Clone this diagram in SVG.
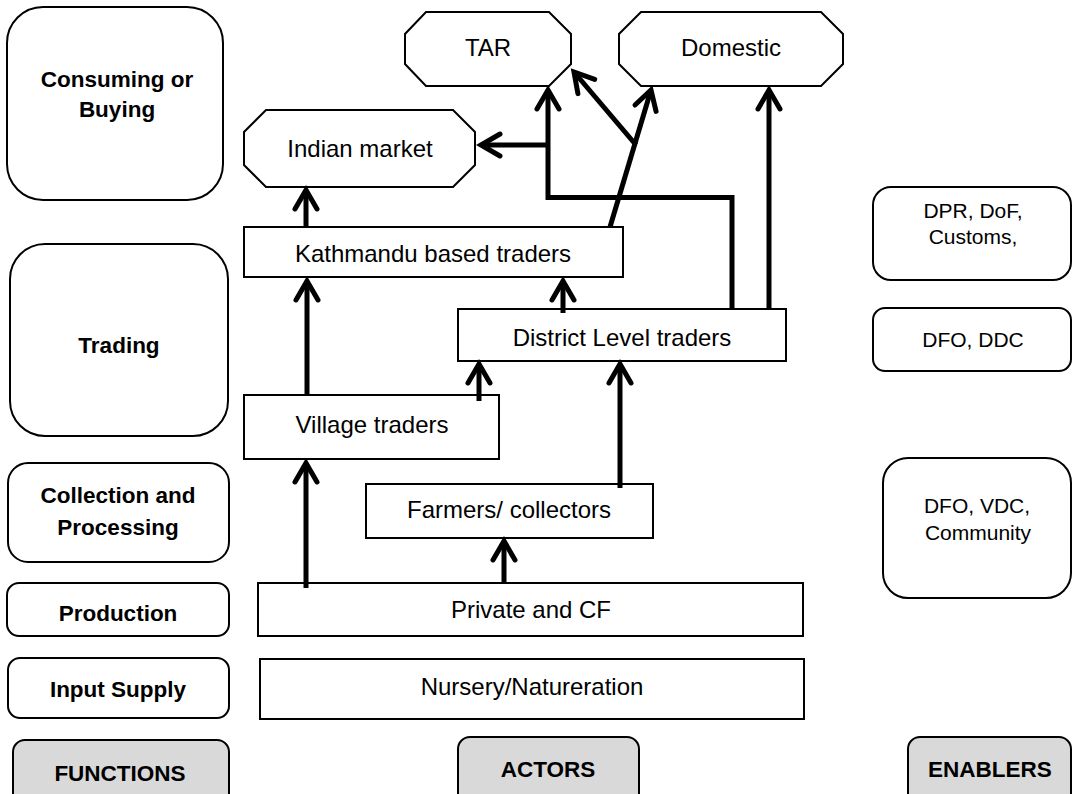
<svg xmlns="http://www.w3.org/2000/svg" width="1073" height="794" viewBox="0 0 1073 794">
  <style>
    .box { fill: #ffffff; stroke: #000000; stroke-width: 2; }
    .tag { fill: #d9d9d9; stroke: #000000; stroke-width: 2; }
    .lbl { font-family: "Liberation Sans", Arial, sans-serif; font-size: 24px; fill: #000000; text-anchor: middle; }
    .fn { font-family: "Liberation Sans", Arial, sans-serif; font-size: 22.5px; font-weight: bold; fill: #000000; text-anchor: middle; }
    .en { font-family: "Liberation Sans", Arial, sans-serif; font-size: 21px; fill: #000000; text-anchor: middle; }
    .flow { fill: none; stroke: #000000; stroke-width: 5; stroke-linejoin: miter; }
    .flow.arr { marker-end: url(#head); }
  </style>
  <defs>
    <marker id="head" markerUnits="userSpaceOnUse" viewBox="-26 -16 32 32" refX="0" refY="0" markerWidth="32" markerHeight="32" orient="auto" overflow="visible">
      <path d="M -19 -11 L 0 0 L -19 11" fill="none" stroke="#000000" stroke-width="5" stroke-linecap="round" stroke-linejoin="miter"/>
    </marker>
  </defs>

  <rect width="1073" height="794" fill="#ffffff"/>

  <!-- Functions column -->
  <g id="fn-consuming">
    <rect class="box" x="7" y="7" width="216" height="193" rx="36"/>
    <text class="fn" x="117" y="87">Consuming or</text>
    <text class="fn" x="117" y="117">Buying</text>
  </g>
  <g id="fn-trading">
    <rect class="box" x="10" y="244" width="218" height="192" rx="35"/>
    <text class="fn" x="119" y="353">Trading</text>
  </g>
  <g id="fn-collection">
    <rect class="box" x="8" y="463" width="221" height="99" rx="20"/>
    <text class="fn" x="118" y="503">Collection and</text>
    <text class="fn" x="118" y="535">Processing</text>
  </g>
  <g id="fn-production">
    <rect class="box" x="7" y="583" width="222" height="53" rx="12"/>
    <text class="fn" x="118" y="621">Production</text>
  </g>
  <g id="fn-input">
    <rect class="box" x="8" y="658" width="221" height="60" rx="12"/>
    <text class="fn" x="118" y="697">Input Supply</text>
  </g>
  <g id="hdr-functions">
    <rect class="tag" x="13" y="740" width="216" height="70" rx="12"/>
    <text class="fn" x="120" y="781">FUNCTIONS</text>
  </g>

  <!-- Actors column -->
  <g id="tar">
    <polygon class="box" points="426,12 549,12 571,34 571,64 549,86 426,86 405,64 405,34"/>
    <text class="lbl" x="488" y="56">TAR</text>
  </g>
  <g id="domestic">
    <polygon class="box" points="641,12 821,12 843,34 843,64 821,86 641,86 619,64 619,34"/>
    <text class="lbl" x="731" y="56">Domestic</text>
  </g>
  <g id="indian-market">
    <polygon class="box" points="266,110 453,110 475,132 475,165 453,187 266,187 244,165 244,132"/>
    <text class="lbl" x="360" y="157">Indian market</text>
  </g>
  <g id="kathmandu">
    <rect class="box" x="244" y="227" width="379" height="50"/>
    <text class="lbl" x="433" y="262">Kathmandu based traders</text>
  </g>
  <g id="district">
    <rect class="box" x="458" y="309" width="328" height="52"/>
    <text class="lbl" x="622" y="346">District Level traders</text>
  </g>
  <g id="village">
    <rect class="box" x="244" y="395" width="255" height="64"/>
    <text class="lbl" x="372" y="433">Village traders</text>
  </g>
  <g id="farmers">
    <rect class="box" x="366" y="484" width="287" height="54"/>
    <text class="lbl" x="509" y="518">Farmers/ collectors</text>
  </g>
  <g id="private-cf">
    <rect class="box" x="258" y="583" width="545" height="53"/>
    <text class="lbl" x="531" y="618">Private and CF</text>
  </g>
  <g id="nursery">
    <rect class="box" x="260" y="659" width="544" height="60"/>
    <text class="lbl" x="532" y="695">Nursery/Natureration</text>
  </g>
  <g id="hdr-actors">
    <rect class="tag" x="458" y="737" width="181" height="70" rx="12"/>
    <text class="fn" x="548" y="777">ACTORS</text>
  </g>

  <!-- Enablers column -->
  <g id="en-trade">
    <rect class="box" x="873" y="187" width="198" height="93" rx="18"/>
    <text class="en" x="973" y="218">DPR, DoF,</text>
    <text class="en" x="973" y="244">Customs,</text>
  </g>
  <g id="en-district">
    <rect class="box" x="873" y="308" width="198" height="63" rx="12"/>
    <text class="en" x="973" y="347">DFO, DDC</text>
  </g>
  <g id="en-local">
    <rect class="box" x="883" y="458" width="188" height="140" rx="25"/>
    <text class="en" x="977" y="513">DFO, VDC,</text>
    <text class="en" x="978" y="540">Community</text>
  </g>
  <g id="hdr-enablers">
    <rect class="tag" x="908" y="737" width="163" height="70" rx="12"/>
    <text class="fn" x="990" y="777">ENABLERS</text>
  </g>

  <!-- Flows between actors -->
  <g id="connectors">
    <path class="flow arr" d="M 306 227 L 306 190"/>
    <path class="flow arr" d="M 307 396 L 307 281"/>
    <path class="flow arr" d="M 479 401 L 479 364"/>
    <path class="flow arr" d="M 563 313 L 563 281"/>
    <path class="flow arr" d="M 306 588 L 306 463"/>
    <path class="flow arr" d="M 504 582 L 504 541"/>
    <path class="flow arr" d="M 620 488 L 620 364"/>
    <path class="flow arr" d="M 769 309 L 769 90"/>
    <path class="flow arr" d="M 732 309 L 732 197.5 L 548 197.5 L 548 90"/>
    <path class="flow arr" d="M 548 145 L 481 145"/>
    <path class="flow arr" d="M 610 227 L 651 90"/>
    <path class="flow arr" d="M 636 145 L 574 72"/>
  </g>
</svg>
